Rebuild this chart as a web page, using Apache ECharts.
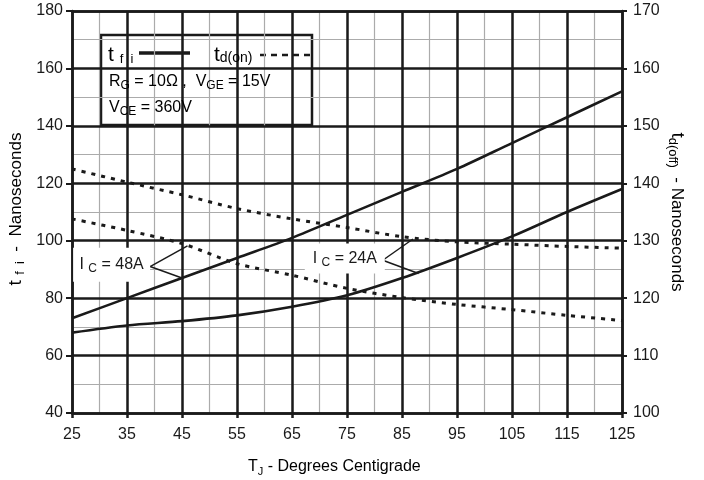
<!DOCTYPE html>
<html>
<head>
<meta charset="utf-8">
<script src="https://cdn.jsdelivr.net/npm/echarts@6/dist/echarts.min.js"></script>
<style>
  html, body { margin: 0; padding: 0; background: #fff; }
  #chart { width: 704px; height: 480px; }
</style>
</head>
<body>
<div id="chart"></div>
<script>
// Junction temperature T_J (°C)
const junctionTemp = [25, 35, 45, 55, 65, 75, 85, 95, 105, 115, 125];

// Current fall time t_fi (ns) — left axis
const tfiIc48 = [73, 80, 87, 94, 101, 109, 117, 125, 134, 143, 152];
const tfiIc24 = [68, 70.5, 72, 74, 77, 81, 87, 94, 101.5, 110, 118];

// Delay time (ns) — right axis
const tdIc48 = [133.8, 131.8, 129.5, 126, 124, 121.7, 120.1, 118.9, 118, 117, 116.1];
const tdIc24 = [142.5, 140.2, 138, 135.6, 133.8, 132.3, 130.7, 129.8, 129.4, 129, 128.7];

// Tick labels
const xTickLabels = [25, 35, 45, 55, 65, 75, 85, 95, 105, 115, 125];
const leftTickLabels = [40, 60, 80, 100, 120, 140, 160, 180];
const rightTickLabels = [100, 110, 120, 130, 140, 150, 160, 170];

const FONT = "'Liberation Sans', Arial, sans-serif";
const INK = '#1a1a1a';
const MINOR = '#ababab';

const xMin = xTickLabels[0], xMax = xTickLabels[xTickLabels.length - 1];
const lMin = leftTickLabels[0], lMax = leftTickLabels[leftTickLabels.length - 1];
const rMin = rightTickLabels[0], rMax = rightTickLabels[rightTickLabels.length - 1];
const leftToRight = v => rMin + (v - lMin) * (rMax - rMin) / (lMax - lMin);

const pairs = ys => junctionTemp.map((t, i) => [t, ys[i]]);

// Subscript-capable rich text styles (subscript sits low in the line box)
function richStyles(main, sub, big) {
  const lh = main + 4;
  return {
    n: { fontFamily: FONT, fontSize: main, color: INK, lineHeight: lh },
    s: { fontFamily: FONT, fontSize: sub, color: INK, lineHeight: 6, verticalAlign: 'bottom' },
    t: { fontFamily: FONT, fontSize: big || main, color: INK, lineHeight: lh }
  };
}

// Callouts (axis units): label centre, pointer apex and pointer targets
const callouts = [
  { name: '48A', centre: [32.2, 91.6], box: [77, 34], apex: [39.2, 91],
    solidIdx: 2, dashedAt: [46, 129.1] },
  { name: '24A', centre: [74.6, 93.8], box: [80, 30], apex: [81.5, 93.2],
    solidAt: [88, 88.6], dashedAt: [87, 130.3] }
];

function calloutLabel(c) {
  return {
    coord: c.centre,
    symbol: 'rect',
    symbolSize: c.box,
    itemStyle: { color: '#fff' },
    label: {
      show: true, position: 'inside',
      formatter: '{n|I }{s|C}{n| = ' + c.name + '}',
      rich: richStyles(16, 12)
    }
  };
}

const legLine = { color: INK, width: 1.5, type: 'solid' };

const solidMarks = {
  markPoint: { silent: true, data: callouts.map(calloutLabel) },
  markLine: {
    silent: true, symbol: ['none', 'none'], label: { show: false }, lineStyle: legLine,
    data: [
      [{ coord: callouts[0].apex }, { coord: [junctionTemp[callouts[0].solidIdx], tfiIc48[callouts[0].solidIdx]] }],
      [{ coord: callouts[1].apex }, { coord: callouts[1].solidAt }]
    ]
  }
};
const dashedMarks = {
  markLine: {
    silent: true, symbol: ['none', 'none'], label: { show: false }, lineStyle: legLine,
    data: callouts.map(c => [
      { coord: [c.apex[0], leftToRight(c.apex[1])] },
      { coord: c.dashedAt }
    ])
  }
};

const solidStyle = { color: INK, width: 2.6, type: 'solid' };
const dashedStyle = { color: INK, width: 3, type: [4, 6], cap: 'butt' };

const chart = echarts.init(document.getElementById('chart'), null, { renderer: 'canvas' });

chart.setOption({
  animation: false,
  backgroundColor: '#fff',
  grid: { left: 72, right: 82, top: 11, bottom: 67, containLabel: false },
  xAxis: [
    {
      // major verticals at every labelled temperature
      type: 'value', min: xMin, max: xMax, interval: 5, position: 'bottom', z: 1,
      axisLine: { show: true, onZero: false, lineStyle: { color: INK, width: 2.5 } },
      axisTick: { show: true, length: 5, customValues: xTickLabels, lineStyle: { color: INK, width: 2.5 } },
      axisLabel: {
        show: true, margin: 14, fontFamily: FONT, fontSize: 16, color: INK,
        customValues: xTickLabels,
        formatter: v => (xTickLabels.indexOf(v) >= 0 ? String(v) : '')
      },
      splitLine: { show: true, lineStyle: { color: INK, width: 2.5 } }
    },
    {
      // minor verticals + top border
      type: 'value', min: xMin, max: xMax, interval: 5, position: 'top', z: 0,
      axisLine: { show: true, onZero: false, lineStyle: { color: INK, width: 2.5 } },
      axisTick: { show: false }, axisLabel: { show: false },
      splitLine: { show: true, lineStyle: { color: MINOR, width: 1.2 } }
    }
  ],
  yAxis: [
    {
      type: 'value', min: lMin, max: lMax, interval: 20, position: 'left', z: 1,
      axisLine: { show: true, onZero: false, lineStyle: { color: INK, width: 2.5 } },
      axisTick: { show: true, length: 6, lineStyle: { color: INK, width: 2 } },
      axisLabel: { margin: 9, fontFamily: FONT, fontSize: 16, color: INK },
      splitLine: { show: true, lineStyle: { color: INK, width: 2.5 } }
    },
    {
      type: 'value', min: rMin, max: rMax, interval: 10, position: 'right', z: 1,
      axisLine: { show: true, onZero: false, lineStyle: { color: INK, width: 2.5 } },
      axisTick: { show: true, length: 5, lineStyle: { color: INK, width: 2 } },
      axisLabel: { margin: 11, fontFamily: FONT, fontSize: 16, color: INK },
      splitLine: { show: false }
    },
    {
      // minor horizontals
      type: 'value', min: lMin, max: lMax, interval: 10, position: 'left', z: 0,
      axisLine: { show: false }, axisTick: { show: false }, axisLabel: { show: false },
      splitLine: { show: true, lineStyle: { color: MINOR, width: 1.2 } }
    }
  ],
  series: [
    Object.assign({ type: 'line', name: 'tfi 48A', yAxisIndex: 0, data: pairs(tfiIc48),
      showSymbol: false, smooth: 0.3, lineStyle: solidStyle }, solidMarks),
    { type: 'line', name: 'tfi 24A', yAxisIndex: 0, data: pairs(tfiIc24),
      showSymbol: false, smooth: 0.3, lineStyle: solidStyle },
    Object.assign({ type: 'line', name: 'td 48A', yAxisIndex: 1, data: pairs(tdIc48),
      showSymbol: false, smooth: 0.3, lineStyle: dashedStyle }, dashedMarks),
    { type: 'line', name: 'td 24A', yAxisIndex: 1, data: pairs(tdIc24),
      showSymbol: false, smooth: 0.3, lineStyle: dashedStyle }
  ],
  graphic: [
    // axis titles
    {
      type: 'text', x: 16, y: 209, rotation: Math.PI / 2, z: 10,
      style: { text: '{t|t }{s|f  i}{n|  -  Nanoseconds}', rich: richStyles(17, 13, 19), x: 0, y: 0,
        align: 'center', verticalAlign: 'middle' }
    },
    {
      type: 'text', x: 677, y: 212, rotation: -Math.PI / 2, z: 10,
      style: { text: '{t|t}{s|d(off)}{n|  - Nanoseconds}', rich: richStyles(17, 13, 19), x: 0, y: 0,
        align: 'center', verticalAlign: 'middle' }
    },
    {
      type: 'text', x: 248, y: 467, z: 10,
      style: { text: '{n|T}{s|J}{n| - Degrees Centigrade}', rich: richStyles(16, 11), x: 0, y: 0,
        align: 'left', verticalAlign: 'middle' }
    },
    // legend / test-condition box
    {
      type: 'group', x: 101, y: 35, z: 20,
      children: [
        { type: 'rect', shape: { x: 0, y: 0, width: 211, height: 90 },
          style: { fill: '#fff', stroke: INK, lineWidth: 2.5 } },
        { type: 'text', x: 7, y: 20, z: 2,
          style: { text: '{t|t }{s|f  i}', rich: richStyles(17, 13, 21), align: 'left', verticalAlign: 'middle' } },
        { type: 'line', shape: { x1: 38, y1: 18, x2: 89, y2: 18 },
          style: { stroke: INK, lineWidth: 3.5 } },
        { type: 'text', x: 113, y: 20, z: 2,
          style: { text: '{t|t}{s|d(on)}', rich: richStyles(17, 14, 21), align: 'left', verticalAlign: 'middle' } },
        { type: 'line', shape: { x1: 159, y1: 20, x2: 209, y2: 20 },
          style: { stroke: INK, lineWidth: 2.5, lineDash: [6, 5] } },
        { type: 'text', x: 8, y: 47, z: 2,
          style: { text: '{n|R}{s|G}{n| = 10Ω ,  V}{s|GE}{n| = 15V}', rich: richStyles(16, 12),
            align: 'left', verticalAlign: 'middle' } },
        { type: 'text', x: 8, y: 73, z: 2,
          style: { text: '{n|V}{s|CE}{n| = 360V}', rich: richStyles(16, 12),
            align: 'left', verticalAlign: 'middle' } }
      ]
    }
  ]
});
</script>
</body>
</html>
